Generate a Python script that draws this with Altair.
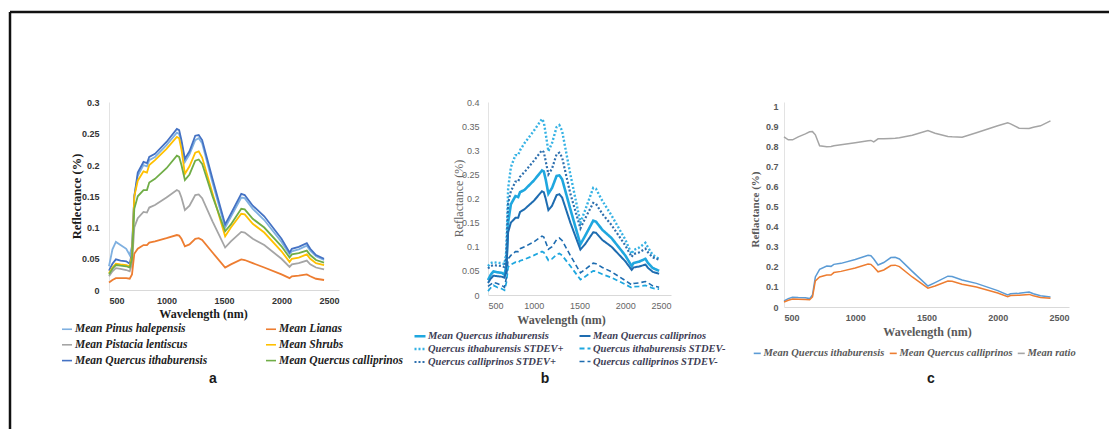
import altair as alt
import pandas as pd

SERIF = "Times New Roman, Liberation Serif, DejaVu Serif, serif"
SANS = "Arial, Liberation Sans, sans-serif"

# ---------------- data ----------------
WL = [500, 530, 560, 600, 650, 680, 700, 720, 750, 800, 830, 850, 900, 1000,
      1090, 1110, 1130, 1160, 1200, 1250, 1280, 1310, 1400, 1510, 1560, 1650,
      1680, 1750, 1850, 2000, 2070, 2090, 2150, 2220, 2250, 2300, 2370]

ITH = [0.031, 0.042, 0.049, 0.047, 0.046, 0.042, 0.060, 0.150, 0.188, 0.205, 0.203, 0.213, 0.218, 0.237,
       0.258, 0.256, 0.240, 0.210, 0.222, 0.247, 0.248, 0.240, 0.178, 0.105, 0.122, 0.154,
       0.152, 0.135, 0.118, 0.082, 0.060, 0.066, 0.069, 0.075, 0.066, 0.056, 0.050]
CALLI = [0.025, 0.034, 0.040, 0.039, 0.038, 0.036, 0.050, 0.130, 0.150, 0.160, 0.160, 0.172, 0.178, 0.195,
         0.215, 0.213, 0.200, 0.176, 0.185, 0.207, 0.209, 0.202, 0.150, 0.094, 0.105, 0.130,
         0.129, 0.114, 0.100, 0.070, 0.052, 0.057, 0.059, 0.063, 0.056, 0.048, 0.044]
SHRUBS = [0.027, 0.036, 0.042, 0.041, 0.040, 0.038, 0.055, 0.150, 0.175, 0.190, 0.188, 0.200, 0.208, 0.226,
          0.245, 0.243, 0.225, 0.186, 0.198, 0.220, 0.222, 0.212, 0.155, 0.086, 0.100, 0.122,
          0.121, 0.106, 0.092, 0.062, 0.045, 0.050, 0.052, 0.057, 0.050, 0.043, 0.040]
PINUS = [0.038, 0.065, 0.077, 0.072, 0.066, 0.056, 0.070, 0.150, 0.183, 0.200, 0.198, 0.208, 0.213, 0.232,
         0.252, 0.250, 0.235, 0.205, 0.217, 0.240, 0.243, 0.235, 0.172, 0.100, 0.117, 0.148,
         0.147, 0.130, 0.112, 0.077, 0.057, 0.062, 0.065, 0.071, 0.063, 0.054, 0.048]
PISTACIA = [0.022, 0.030, 0.035, 0.034, 0.032, 0.030, 0.042, 0.100, 0.115, 0.125, 0.124, 0.132, 0.136, 0.148,
            0.160, 0.158, 0.148, 0.128, 0.135, 0.152, 0.153, 0.147, 0.110, 0.068, 0.078, 0.093,
            0.092, 0.082, 0.072, 0.050, 0.037, 0.041, 0.043, 0.047, 0.041, 0.036, 0.033]
LIANAS = [0.012, 0.016, 0.019, 0.019, 0.019, 0.018, 0.025, 0.058, 0.066, 0.072, 0.072, 0.076, 0.078, 0.083,
          0.088, 0.087, 0.082, 0.070, 0.073, 0.082, 0.083, 0.080, 0.060, 0.036, 0.041, 0.049,
          0.048, 0.043, 0.036, 0.025, 0.019, 0.022, 0.023, 0.025, 0.022, 0.018, 0.016]

ITH_UP = [0.060, 0.066, 0.068, 0.067, 0.066, 0.064, 0.090, 0.220, 0.265, 0.290, 0.290, 0.300, 0.315, 0.340,
          0.365, 0.358, 0.335, 0.298, 0.315, 0.348, 0.352, 0.340, 0.250, 0.150, 0.175, 0.222,
          0.220, 0.195, 0.165, 0.115, 0.085, 0.093, 0.098, 0.108, 0.098, 0.083, 0.075]
CALLI_UP = [0.055, 0.060, 0.062, 0.061, 0.060, 0.058, 0.080, 0.190, 0.215, 0.235, 0.235, 0.245, 0.255, 0.278,
            0.300, 0.296, 0.278, 0.250, 0.262, 0.292, 0.295, 0.285, 0.210, 0.138, 0.158, 0.191,
            0.189, 0.168, 0.145, 0.103, 0.079, 0.085, 0.088, 0.096, 0.088, 0.078, 0.073]
ITH_DN = [0.008, 0.015, 0.020, 0.016, 0.013, 0.010, 0.025, 0.058, 0.063, 0.068, 0.067, 0.071, 0.074, 0.082,
          0.090, 0.088, 0.082, 0.072, 0.075, 0.084, 0.086, 0.082, 0.060, 0.032, 0.038, 0.050,
          0.049, 0.043, 0.036, 0.022, 0.015, 0.017, 0.018, 0.020, 0.018, 0.014, 0.012]
CALLI_DN = [0.018, 0.022, 0.026, 0.024, 0.020, 0.016, 0.035, 0.075, 0.082, 0.090, 0.090, 0.096, 0.100, 0.110,
            0.122, 0.120, 0.110, 0.095, 0.100, 0.115, 0.118, 0.113, 0.082, 0.046, 0.053, 0.066,
            0.065, 0.057, 0.048, 0.030, 0.021, 0.024, 0.025, 0.028, 0.025, 0.019, 0.016]

RATIO = [0.850, 0.835, 0.835, 0.850, 0.865, 0.875, 0.876, 0.860, 0.805, 0.800, 0.802, 0.805, 0.810, 0.820,
         0.830, 0.832, 0.825, 0.840, 0.840, 0.842, 0.843, 0.845, 0.858, 0.882, 0.868, 0.852,
         0.850, 0.848, 0.870, 0.905, 0.920, 0.915, 0.893, 0.892, 0.898, 0.905, 0.930]

# legend order is column by column (Vega fills legend columns top to bottom)
NAMES_A = ["Mean Pinus halepensis", "Mean Pistacia lentiscus", "Mean Quercus ithaburensis",
           "Mean Lianas", "Mean Shrubs", "Mean Quercus calliprinos"]
SERIES_A = [PINUS, PISTACIA, ITH, LIANAS, SHRUBS, CALLI]
COLORS_A = ["#7fb0e0", "#a5a5a5", "#4472c4", "#ed7d31", "#ffc000", "#70ad47"]

NAMES_B = ["Mean Quercus ithaburensis", "Quercus ithaburensis STDEV+", "Quercus calliprinos STDEV+",
           "Mean Quercus calliprinos", "Quercus ithaburensis  STDEV-", "Quercus calliprinos  STDEV-"]
SERIES_B = [ITH, ITH_UP, CALLI_UP, CALLI, ITH_DN, CALLI_DN]
COLORS_B = ["#1fa7df", "#36b2e4", "#2d6fae", "#1e6cb0", "#1fa7df", "#1e6cb0"]
DASH_B = [[1, 0], [2, 2], [2, 2], [1, 0], [5, 3], [5, 3]]
WIDTH_B = [2.6, 1.6, 1.6, 2.6, 1.8, 1.8]

NAMES_C = ["Mean Quercus ithaburensis", "Mean Quercus calliprinos", "Mean ratio"]
SERIES_C = [ITH, CALLI, RATIO]
COLORS_C = ["#5b9bd5", "#ed7d31", "#a5a5a5"]

X_TICKS = [500, 1000, 1500, 2000, 2500]
Y_TICKS_A = [0, 0.05, 0.1, 0.15, 0.2, 0.25, 0.3]
Y_TICKS_B = [0, 0.05, 0.1, 0.15, 0.2, 0.25, 0.3, 0.35, 0.4]
Y_TICKS_C = [0, 0.1, 0.2, 0.3, 0.4, 0.5, 0.6, 0.7, 0.8, 0.9, 1]


def long(names, series):
    rows = []
    for n, vals in zip(names, series, strict=True):
        for w, v in zip(WL, vals, strict=True):
            rows.append({"wl": w, "v": v, "s": n})
    return pd.DataFrame(rows)


one = pd.DataFrame({"k": [0]})


def x_axis(title_x, title_y, label_color, label_weight, title_color, title_weight):
    return alt.Axis(values=X_TICKS, format="d", title="Wavelength (nm)", grid=False, ticks=False,
                    domainColor="#d9d9d9", labelFont=SANS, labelFontSize=9, labelColor=label_color,
                    labelFontWeight=label_weight, labelPadding=6, titleFont=SERIF, titleFontSize=12,
                    titleFontWeight=title_weight, titleColor=title_color, titleX=title_x, titleY=title_y,
                    titleBaseline="middle", titleAlign="center")


def y_axis(title, values, fmt, pad, title_x, title_y, label_color, label_weight, title_color,
           title_weight, title_size):
    return alt.Axis(values=values, format=fmt, title=title, grid=False, ticks=False,
                    domainColor="#e3e3e3", labelFont=SANS, labelFontSize=9, labelColor=label_color,
                    labelFontWeight=label_weight, labelPadding=pad, titleFont=SERIF, titleFontSize=title_size,
                    titleFontWeight=title_weight, titleColor=title_color, titleX=title_x, titleY=title_y,
                    titleBaseline="middle", titleAlign="center", titleAngle=270)


def letter(txt, xpos):
    return alt.Chart(one).mark_text(text=txt, font=SANS, fontSize=14, fontWeight="bold",
                                    color="#1a1a1a", align="center", baseline="middle").encode(
        x=alt.value(xpos), y=alt.value(277))


# ---------------- panel a ----------------
leg_a = alt.Legend(title=None, orient="none", legendX=-48, legendY=221, columns=2, columnPadding=54,
                   rowPadding=3.8, symbolType="stroke", symbolSize=100, symbolStrokeWidth=1.6,
                   labelFont=SERIF, labelFontSize=11.5, labelFontStyle="italic", labelFontWeight="bold",
                   labelColor="#222222", labelOffset=2, padding=0, labelLimit=400)
lines_a = alt.Chart(long(NAMES_A, SERIES_A)).mark_line(strokeWidth=1.8).encode(
    x=alt.X("wl:Q", scale=alt.Scale(domain=[500, 2500], nice=False, zero=False),
            axis=x_axis(94, 23, "#333333", "bold", "#1a1a1a", "bold")),
    y=alt.Y("v:Q", scale=alt.Scale(domain=[0, 0.301], nice=False),
            axis=y_axis("Reflectance (%)", Y_TICKS_A, ".2~f", 10, -33, 94, "#333333", "bold",
                        "#1a1a1a", "bold", 12.5)),
    color=alt.Color("s:N", scale=alt.Scale(domain=NAMES_A, range=COLORS_A), legend=leg_a),
)
frame_top = alt.Chart(one).mark_rule(color="#111111", strokeWidth=2.5).encode(
    x=alt.value(-99), x2=alt.value(1000), y=alt.value(-90))
frame_left = alt.Chart(one).mark_rule(color="#111111", strokeWidth=2.5).encode(
    x=alt.value(-99), y=alt.value(-90), y2=alt.value(327))
panel_a = alt.layer(lines_a, frame_top, frame_left, letter("a", 104)).properties(width=230, height=188)

# ---------------- panel b ----------------
leg_b = alt.Legend(title=None, orient="none", legendX=-75, legendY=227, columns=2, columnPadding=11,
                   rowPadding=-2, symbolType="stroke", symbolSize=121,
                   labelFont=SERIF, labelFontSize=10.5, labelFontStyle="italic", labelFontWeight="bold",
                   labelColor="#3d3d55", labelOffset=1, padding=0, labelLimit=400)
lines_b = alt.Chart(long(NAMES_B, SERIES_B)).mark_line().encode(
    x=alt.X("wl:Q", scale=alt.Scale(domain=[500, 2500], nice=False, zero=False),
            axis=x_axis(73, 24, "#666666", "normal", "#555555", "bold")),
    y=alt.Y("v:Q", scale=alt.Scale(domain=[0, 0.4], nice=False),
            axis=y_axis("Reflactance (%)", Y_TICKS_B, ".2~f", 9, -30, 96, "#666666", "normal",
                        "#666666", "normal", 12)),
    color=alt.Color("s:N", scale=alt.Scale(domain=NAMES_B, range=COLORS_B), legend=leg_b),
    strokeDash=alt.StrokeDash("s:N", scale=alt.Scale(domain=NAMES_B, range=DASH_B), legend=leg_b),
    strokeWidth=alt.StrokeWidth("s:N", scale=alt.Scale(domain=NAMES_B, range=WIDTH_B), legend=leg_b),
)
panel_b = alt.layer(lines_b, letter("b", 57)).properties(width=183, height=193)

# ---------------- panel c ----------------
leg_c = alt.Legend(title=None, orient="none", legendX=-32, legendY=246, direction="horizontal",
                   columnPadding=1, symbolType="stroke", symbolSize=49, symbolStrokeWidth=1.6,
                   labelFont=SERIF, labelFontSize=10.5, labelFontStyle="italic", labelFontWeight="bold",
                   labelColor="#595959", labelOffset=1, padding=0, labelLimit=400)
lines_c = alt.Chart(long(NAMES_C, SERIES_C)).mark_line(strokeWidth=1.5).encode(
    x=alt.X("wl:Q", scale=alt.Scale(domain=[500, 2500], nice=False, zero=False),
            axis=x_axis(143, 24, "#595959", "bold", "#595959", "bold")),
    y=alt.Y("v:Q", scale=alt.Scale(domain=[0, 1.024], nice=False),
            axis=y_axis("Reflactance (%)", Y_TICKS_C, ".1~f", 6, -29, 107, "#595959", "bold",
                        "#595959", "bold", 11)),
    color=alt.Color("s:N", scale=alt.Scale(domain=NAMES_C, range=COLORS_C), legend=leg_c),
)
panel_c = alt.layer(lines_c, letter("c", 147)).properties(width=285, height=205)

RES_S = dict(x="independent", y="independent", color="independent",
             strokeDash="independent", strokeWidth="independent")
RES_L = dict(color="independent", strokeDash="independent", strokeWidth="independent")

inner = alt.hconcat(panel_b, panel_c, spacing=113, bounds="flush").resolve_scale(**RES_S).resolve_legend(**RES_L)
chart = (
    alt.hconcat(panel_a, inner, spacing=149, bounds="flush")
    .resolve_scale(**RES_S)
    .resolve_legend(**RES_L)
    .properties(padding={"left": 0, "top": 2, "right": 0, "bottom": 0}, background="white")
    .configure_view(strokeWidth=0)
)

chart.save("out.html", embed_options={"renderer": "svg", "actions": False})
